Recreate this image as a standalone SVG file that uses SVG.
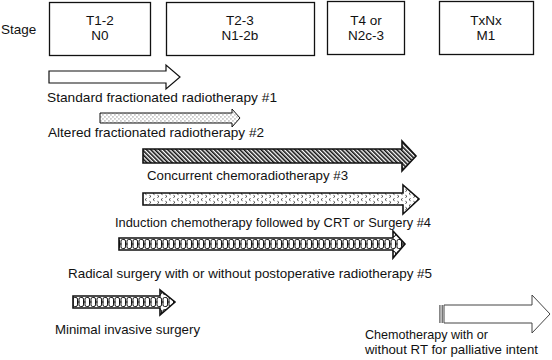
<svg xmlns="http://www.w3.org/2000/svg" width="552" height="360" viewBox="0 0 552 360">
<style>
text{font-family:"Liberation Sans",Arial,sans-serif;font-size:13.5px;fill:#111}
.box{fill:#fff;stroke:#111;stroke-width:1.3}
.c{text-anchor:middle}
.ar{stroke:#111;stroke-linejoin:miter}
</style>
<defs>
<pattern id="dots" width="4" height="4" patternUnits="userSpaceOnUse">
<rect width="4" height="4" fill="#fff"/>
<rect x="0.5" y="0.5" width="0.9" height="0.9" fill="#333"/>
<rect x="2.5" y="2.5" width="0.9" height="0.9" fill="#333"/>
</pattern>
<pattern id="hatch" width="3" height="3" patternUnits="userSpaceOnUse" patternTransform="rotate(-45)">
<rect width="3" height="3" fill="#fff"/>
<rect width="1.6" height="3" fill="#111"/>
</pattern>
<pattern id="chev" width="8" height="6" patternUnits="userSpaceOnUse">
<rect width="8" height="6" fill="#fff"/>
<path d="M2.6 0.4 L1 1.6 L2.6 2.8" fill="none" stroke="#222" stroke-width="0.8"/>
<path d="M5.4 3.2 L7 4.4 L5.4 5.6" fill="none" stroke="#222" stroke-width="0.8"/>
</pattern>
<pattern id="chain" width="6" height="12" patternUnits="userSpaceOnUse" y="238">
<rect width="6" height="12" fill="#fff"/>
<rect x="1" y="1.5" width="4.5" height="9" rx="1.6" fill="none" stroke="#111" stroke-width="1"/>
<rect x="0" y="5.5" width="1.5" height="1" fill="#111"/>
</pattern>
<pattern id="chain6" href="#chain" y="296"/>
</defs>

<g id="stage-label"><text x="1" y="34">Stage</text></g>
<g id="node-t12"><rect class="box" x="49.5" y="2.5" width="101" height="53"/><text class="c" x="100" y="25">T1-2</text><text class="c" x="100" y="40">N0</text></g>
<g id="node-t23"><rect class="box" x="166.5" y="2.5" width="148" height="53"/><text class="c" x="240" y="25">T2-3</text><text class="c" x="240" y="40">N1-2b</text></g>
<g id="node-t4"><rect class="box" x="327.5" y="1.5" width="77" height="53"/><text class="c" x="366" y="25">T4 or</text><text class="c" x="366" y="40">N2c-3</text></g>
<g id="node-txnx"><rect class="box" x="439.5" y="1.5" width="94" height="53"/><text class="c" x="486" y="25">TxNx</text><text class="c" x="486" y="40">M1</text></g>

<g id="connectors">
<g id="arrow1"><path class="ar" d="M49 71 H166 V65 L180 77 L166 89 V83 H49 Z" fill="#fff" stroke-width="1.2"/></g>
<g id="arrow2"><path class="ar" d="M100 113 H232 V109 L240 118 L232 127 V123 H100 Z" fill="url(#dots)" stroke-width="1"/></g>
<g id="arrow3"><path class="ar" d="M143 149 H402 V141 L416 156 L402 171 V163 H143 Z" fill="url(#hatch)" stroke-width="1.6"/></g>
<g id="arrow4"><path class="ar" d="M143 193 H403 V185 L419 199 L403 214 V205 H143 Z" fill="url(#chev)" stroke-width="1.6"/></g>
<g id="arrow5"><path class="ar" d="M119 238 H393 V231 L405 244 L393 258 V250 H119 Z" fill="url(#chain)" stroke-width="1.6"/></g>
<g id="arrow6"><path class="ar" d="M73 296 H160 V290 L175 302 L160 315 V308 H73 Z" fill="url(#chain6)" stroke-width="1.6"/></g>
<g id="arrow7">
<rect x="439.3" y="305" width="1.2" height="18" fill="#555"/>
<rect x="441.6" y="305" width="1.2" height="18" fill="#555"/>
<path d="M444 305 H532 V295 L550 314 L532 333 V323 H444 Z" fill="#fff" stroke="#444" stroke-width="1"/>
</g>
</g>

<g id="labels">
<text x="47" y="102" textLength="230" lengthAdjust="spacingAndGlyphs">Standard fractionated radiotherapy #1</text>
<text x="48" y="137" textLength="216" lengthAdjust="spacingAndGlyphs">Altered fractionated radiotherapy #2</text>
<text x="147" y="180" textLength="201" lengthAdjust="spacingAndGlyphs">Concurrent chemoradiotherapy #3</text>
<text x="115" y="227" textLength="316" lengthAdjust="spacingAndGlyphs">Induction chemotherapy followed by CRT or Surgery #4</text>
<text x="68" y="278" textLength="364" lengthAdjust="spacingAndGlyphs">Radical surgery with or without postoperative radiotherapy #5</text>
<text x="55" y="334" textLength="145" lengthAdjust="spacingAndGlyphs">Minimal invasive surgery</text>
<text x="365" y="339" textLength="123" lengthAdjust="spacingAndGlyphs">Chemotherapy with or</text>
<text x="365" y="354" textLength="173" lengthAdjust="spacingAndGlyphs">without RT for palliative intent</text>
</g>
</svg>
